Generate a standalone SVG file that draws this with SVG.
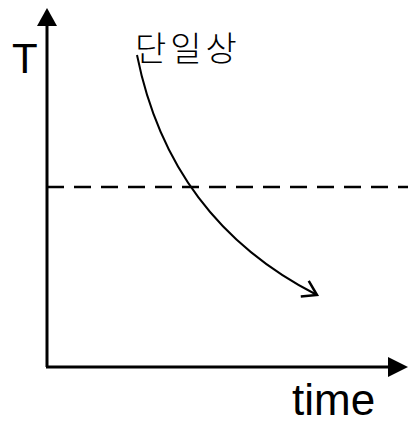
<svg xmlns="http://www.w3.org/2000/svg" width="408" height="423" viewBox="0 0 408 423">
<style>
.ax{stroke:#000;stroke-width:3;fill:none}
.t{font-family:"Liberation Sans","Noto Sans CJK KR",sans-serif;fill:#000}
.k{font-family:"Noto Sans CJK KR",sans-serif;fill:#000;font-weight:300}
</style>
<defs>
<marker id="open" markerWidth="20" markerHeight="20" refX="0" refY="0" viewBox="-12 -8 14 16" orient="auto" markerUnits="userSpaceOnUse">
<path d="M-11,-7 L0,0 L-11,7" fill="none" stroke="#000" stroke-width="2"/>
</marker>
</defs>
<rect width="408" height="423" fill="#fff"/>
<g id="connectors">
<line class="ax" x1="47" y1="367" x2="47" y2="24"/>
<polygon points="47,8 37,26 57,26" fill="#000"/>
<line class="ax" x1="46" y1="367" x2="390" y2="367"/>
<polygon points="408,367 388,357 388,377" fill="#000"/>
<line x1="47" y1="187" x2="408" y2="187" stroke="#000" stroke-width="2.5" stroke-dasharray="17 10"/>
<path d="M137,55 Q170,220 317,295" fill="none" stroke="#000" stroke-width="2" marker-end="url(#open)"/>
</g>
<g id="labels">
<text class="t" x="12" y="73" font-size="42" font-weight="300">T</text>
<text class="k" x="135" y="61" font-size="34" letter-spacing="4">단일상</text>
<text class="t" x="292" y="415" font-size="44">time</text>
</g>
</svg>
